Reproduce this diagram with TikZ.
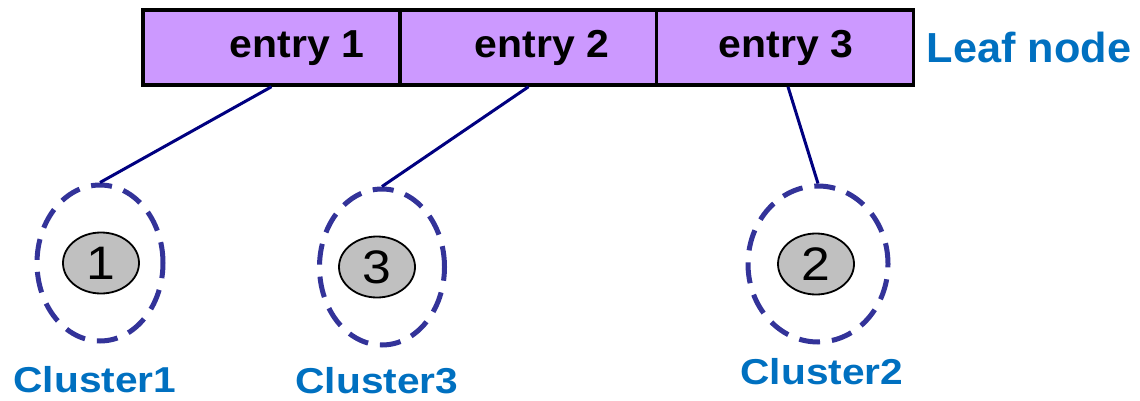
\documentclass[tikz,border=0pt]{standalone}
\usepackage{fontspec}
\usetikzlibrary{shapes.geometric}
\newfontfamily\entryfont[FakeStretch=1.05]{Liberation Sans}
\newfontfamily\digitfont[FakeStretch=1.1]{Liberation Sans}
\newfontfamily\leaffont[FakeStretch=1.03]{Liberation Sans}
\newfontfamily\clusterfont[FakeStretch=1.13]{Liberation Sans}
\definecolor{cellfill}{HTML}{CC99FF}
\definecolor{labelblue}{HTML}{0070C0}
\definecolor{ringblue}{HTML}{333399}
\definecolor{linknavy}{HTML}{000080}
\definecolor{pointgray}{HTML}{C0C0C0}
\begin{document}
\begin{tikzpicture}[x=1pt,y=-1pt,
  cell/.style={draw=black,line width=3.5pt,fill=cellfill,rectangle,inner sep=0,
    minimum width=257pt,minimum height=75pt},
  entrytext/.style={anchor=base,inner sep=0,font=\entryfont\bfseries\fontsize{39}{41}\selectfont},
  ring/.style={draw=ringblue,line width=5pt,dash pattern=on 21pt off 12pt,
    ellipse,inner sep=0,minimum height=156pt},
  point/.style={draw=black,line width=1.8pt,fill=pointgray,ellipse,inner sep=0,
    minimum width=76pt,minimum height=61pt,font=\digitfont\fontsize{47}{49}\selectfont},
  bluelabel/.style={text=labelblue,inner sep=0},
  link/.style={draw=linknavy,line width=3pt}]
\useasboundingbox (0,0) rectangle (1140,401);

% leaf node with its three entries
\node[cell] (e1) at (271.5,47.5) {};
\node[cell] (e2) at (528.5,47.5) {};
\node[cell] (e3) at (785,47.5) {};
\node[entrytext] (t1) at (297,58) {entry 1};
\node[entrytext] (t2) at (542,58) {entry 2};
\node[entrytext] (t3) at (786,58) {entry 3};
\node[bluelabel,anchor=base,font=\leaffont\bfseries\fontsize{42}{44}\selectfont] (leaf) at (1029,63) {Leaf node};

% clusters
\node[ring,minimum width=126pt] (c1) at (100,263) {};
\node[ring,minimum width=125pt] (c3) at (382,267) {};
\node[ring,minimum width=140pt] (c2) at (818,264) {};
\node[point] (p1) at (101,263) {1};
\node[point] (p3) at (377,267) {3};
\node[point] (p2) at (816,264) {2};
\begin{scope}[every node/.style={bluelabel,anchor=base,font=\clusterfont\bfseries\fontsize{36}{38}\selectfont}]
\node (l1) at (95,392) {Cluster1};
\node (l3) at (377,393) {Cluster3};
\node (l2) at (822,384) {Cluster2};
\end{scope}

% entry pointers
\draw[link] (e1.south) -- (c1.north);
\draw[link] (e2.south) -- (c3.north);
\draw[link] ([xshift=3pt]e3.south) -- (c2.north);
\end{tikzpicture}
\end{document}
